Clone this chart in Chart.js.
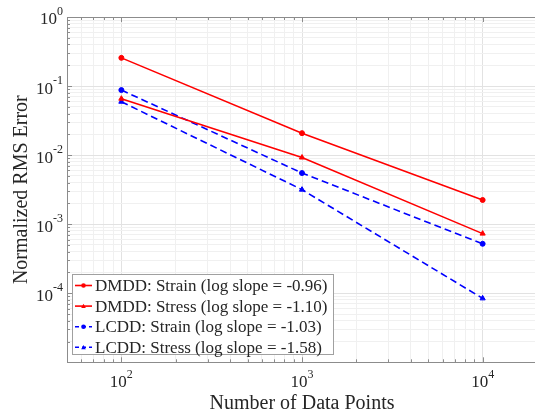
<!DOCTYPE html>
<html>
<head>
<meta charset="utf-8">
<script src="https://cdn.jsdelivr.net/npm/chart.js@4"></script>
<style>
html, body { margin: 0; padding: 0; background: #fff; overflow: hidden; }
</style>
</head>
<body>
<canvas id="myChart" width="542" height="414"></canvas>
<script>
var dataPoints = [100, 1000, 10000];
var dmddStrain = [0.256, 0.0208, 0.00224];
var dmddStress = [0.0656, 0.00923, 0.00073];
var lcddStrain = [0.0875, 0.0055, 0.00052];
var lcddStress = [0.0593, 0.00316, 0.0000843];
var seriesLabels = [
  "DMDD: Strain (log slope = -0.96)",
  "DMDD: Stress (log slope = -1.10)",
  "LCDD: Strain (log slope = -1.03)",
  "LCDD: Stress (log slope = -1.58)"
];
var xTickExps = [2, 3, 4];
var yTickExps = [0, -1, -2, -3, -4];

var serif = "'Liberation Serif', 'Times New Roman', serif";
var textColor = "#262626";
var boxColor = "#8c8c8c";

function toPoints(ys) {
  return dataPoints.map(function (x, i) { return {x: x, y: ys[i]}; });
}

// every 1..9 x 10^n inside [min, max], powers of ten marked major
function logTicks(min, max) {
  var ticks = [];
  for (var e = Math.floor(Math.log10(min)); e <= Math.ceil(Math.log10(max)); e++) {
    for (var m = 1; m < 10; m++) {
      var v = m * Math.pow(10, e);
      if (v >= min * 0.999 && v <= max * 1.001) ticks.push({value: v, major: m === 1});
    }
  }
  return ticks;
}

function gridColor(c) {
  return c.tick && c.tick.major ? "#e2e2e2" : "#f0f0f0";
}

function series(label, ys, color, shape, dashed) {
  return {
    label: label,
    data: toPoints(ys),
    borderColor: color,
    backgroundColor: color,
    borderWidth: 1.6,
    borderDash: dashed ? [7, 4] : [],
    pointStyle: shape,
    pointRadius: shape === "triangle" ? 3 : 2.5,
    pointBorderWidth: 1,
    pointBackgroundColor: color,
    pointBorderColor: color
  };
}

function drawMarker(ctx, shape, x, y, r, color) {
  ctx.fillStyle = color;
  ctx.beginPath();
  if (shape === "triangle") {
    ctx.moveTo(x, y - r);
    ctx.lineTo(x + r, y + r * 0.8);
    ctx.lineTo(x - r, y + r * 0.8);
    ctx.closePath();
  } else {
    ctx.arc(x, y, r, 0, Math.PI * 2);
  }
  ctx.fill();
}

function powerLabel(ctx, exp, x, y, align) {
  var base = "10", sup = String(exp);
  ctx.font = "17px " + serif;
  var w1 = ctx.measureText(base).width;
  ctx.font = "12px " + serif;
  var w2 = ctx.measureText(sup).width;
  var left = align === "right" ? x - w1 - w2 : x - (w1 + w2) / 2;
  ctx.textAlign = "left";
  ctx.textBaseline = "middle";
  ctx.font = "17px " + serif;
  ctx.fillText(base, left, y + 3);
  ctx.font = "12px " + serif;
  ctx.fillText(sup, left + w1, y - 5);
}

var axisDecor = {
  id: "axisDecor",
  afterDraw: function (chart) {
    var ctx = chart.ctx, a = chart.chartArea;
    var xs = chart.scales.x, ys = chart.scales.y;
    ctx.save();
    ctx.strokeStyle = boxColor;
    ctx.lineWidth = 1;
    ctx.beginPath();
    ctx.moveTo(a.left, a.top + 0.5);
    ctx.lineTo(a.right, a.top + 0.5);
    xs.ticks.forEach(function (t) {
      var px = Math.round(xs.getPixelForValue(t.value)) + 0.5;
      var len = t.major ? 5 : 3;
      ctx.moveTo(px, a.bottom); ctx.lineTo(px, a.bottom - len);
      ctx.moveTo(px, a.top); ctx.lineTo(px, a.top + len);
    });
    ys.ticks.forEach(function (t) {
      var py = Math.round(ys.getPixelForValue(t.value)) + 0.5;
      var len = t.major ? 5 : 3;
      ctx.moveTo(a.left, py); ctx.lineTo(a.left + len, py);
    });
    ctx.stroke();

    ctx.fillStyle = textColor;
    xTickExps.forEach(function (e) {
      powerLabel(ctx, e, xs.getPixelForValue(Math.pow(10, e)), 380, "center");
    });
    yTickExps.forEach(function (e) {
      ctx.fillStyle = textColor;
      powerLabel(ctx, e, 63, ys.getPixelForValue(Math.pow(10, e)), "right");
    });

    // legend box
    var lx = 72, ly = 274, lw = 261, lh = 80;
    ctx.fillStyle = "#fff";
    ctx.fillRect(lx, ly, lw, lh);
    ctx.strokeStyle = "#a0a0a0";
    ctx.strokeRect(lx + 0.5, ly + 0.5, lw, lh);
    chart.data.datasets.forEach(function (ds, i) {
      var cy = 285.5 + i * 20.6;
      ctx.strokeStyle = ds.borderColor;
      ctx.lineWidth = 1.6;
      ctx.setLineDash(ds.borderDash.length ? [4, 3] : []);
      ctx.beginPath();
      ctx.moveTo(75, cy); ctx.lineTo(92, cy);
      ctx.stroke();
      ctx.setLineDash([]);
      drawMarker(ctx, ds.pointStyle, 83.5, cy, 2.3, ds.borderColor);
      ctx.fillStyle = textColor;
      ctx.font = "17px " + serif;
      ctx.textAlign = "left";
      ctx.textBaseline = "middle";
      ctx.fillText(ds.label, 95, cy + 1);
    });
    ctx.restore();
  }
};

new Chart("myChart", {
  type: "line",
  data: {
    datasets: [
      series(seriesLabels[0], dmddStrain, "#ff0000", "circle", false),
      series(seriesLabels[1], dmddStress, "#ff0000", "triangle", false),
      series(seriesLabels[2], lcddStrain, "#0000ff", "circle", true),
      series(seriesLabels[3], lcddStress, "#0000ff", "triangle", true)
    ]
  },
  options: {
    responsive: false,
    animation: false,
    layout: {padding: {top: 17, right: 0, bottom: 0, left: 0}},
    plugins: {legend: {display: false}, tooltip: {enabled: false}},
    scales: {
      x: {
        type: "logarithmic",
        min: 50,
        max: 20000,
        afterBuildTicks: function (s) { s.ticks = logTicks(50, 20000); },
        ticks: {display: false},
        grid: {drawTicks: false, color: gridColor},
        border: {color: boxColor},
        title: {
          display: true,
          text: "Number of Data Points",
          color: textColor,
          font: {family: serif, size: 20, lineHeight: 1},
          padding: {top: 31.7, bottom: 0}
        }
      },
      y: {
        type: "logarithmic",
        min: 1e-5,
        max: 1,
        afterBuildTicks: function (s) { s.ticks = logTicks(1e-5, 1); },
        ticks: {display: false},
        grid: {drawTicks: false, color: gridColor},
        border: {color: boxColor},
        title: {
          display: true,
          text: "Normalized RMS Error",
          color: textColor,
          font: {family: serif, size: 20, lineHeight: 1},
          padding: {top: 12, bottom: 35}
        }
      }
    }
  },
  plugins: [axisDecor]
});
</script>
</body>
</html>
